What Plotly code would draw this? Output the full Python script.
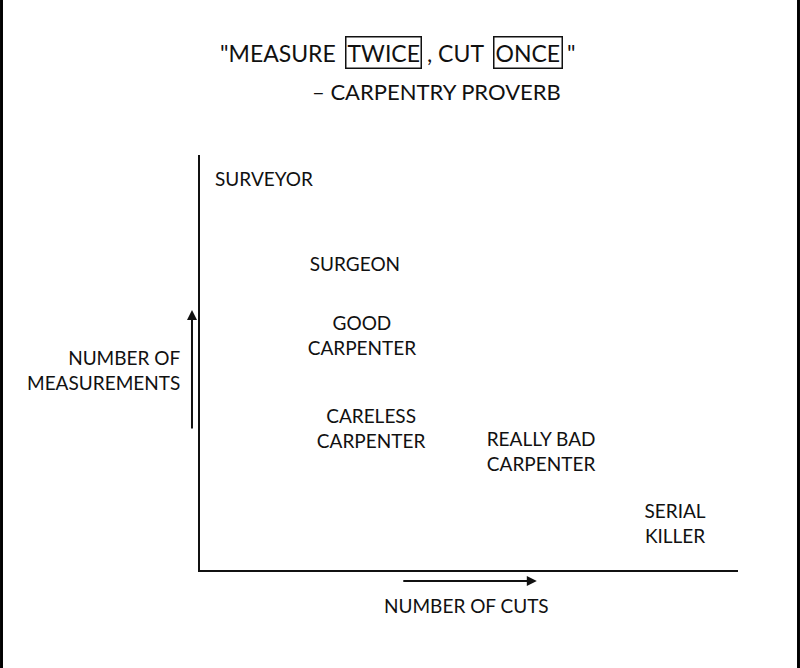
import plotly.graph_objects as go

# Data: position of each profession on the (cuts, measurements) plane
labels = ["SURVEYOR", "SURGEON", "GOOD<br>CARPENTER", "CARELESS<br>CARPENTER",
          "REALLY BAD<br>CARPENTER", "SERIAL<br>KILLER"]
cuts = [1.19, 2.88, 3.01, 3.18, 6.34, 8.83]
measurements = [9.37, 7.32, 5.59, 3.35, 2.80, 1.06]

FONT = "Lato"
INK = "#111111"

fig = go.Figure()
fig.add_trace(go.Scatter(
    x=cuts, y=measurements, mode="text", text=labels,
    textposition="middle center",
    textfont=dict(family=FONT, size=19, color=INK),
    hoverinfo="skip", showlegend=False,
))

ann = []
tsize = 23
ty = 1.2458
# Title line 1 pieces
ann.append(dict(text="\"MEASURE", x=0.2565, y=ty, xref="paper", yref="paper",
                xanchor="right", yanchor="middle", showarrow=False,
                font=dict(family=FONT, size=tsize, color=INK)))
ann.append(dict(text="TWICE", x=0.342, y=ty, xref="paper", yref="paper",
                xanchor="center", yanchor="middle", showarrow=False,
                bordercolor=INK, borderwidth=1.5, borderpad=1,
                font=dict(family=FONT, size=tsize, color=INK)))
ann.append(dict(text=", CUT", x=0.418, y=ty, xref="paper", yref="paper",
                xanchor="left", yanchor="middle", showarrow=False,
                font=dict(family=FONT, size=tsize, color=INK)))
ann.append(dict(text="ONCE", x=0.609, y=ty, xref="paper", yref="paper",
                xanchor="center", yanchor="middle", showarrow=False,
                bordercolor=INK, borderwidth=1.5, borderpad=1,
                font=dict(family=FONT, size=tsize, color=INK)))
ann.append(dict(text="\"", x=0.679, y=ty, xref="paper", yref="paper",
                xanchor="left", yanchor="middle", showarrow=False,
                font=dict(family=FONT, size=tsize, color=INK)))
ann.append(dict(text="– CARPENTRY PROVERB", x=0.44, y=1.152, xref="paper", yref="paper",
                xanchor="center", yanchor="middle", showarrow=False,
                font=dict(family=FONT, size=22, color=INK)))
# Axis labels
ann.append(dict(text="NUMBER OF CUTS", x=0.496, y=-0.0867, xref="paper", yref="paper",
                xanchor="center", yanchor="middle", showarrow=False,
                font=dict(family=FONT, size=19, color=INK)))
ann.append(dict(text="NUMBER OF<br>MEASUREMENTS", x=-0.0335, y=0.482, xref="paper", yref="paper",
                xanchor="right", yanchor="middle", align="right", showarrow=False,
                font=dict(family=FONT, size=19, color=INK)))
# Arrows
ann.append(dict(text="", x=0.626, y=-0.0265, xref="paper", yref="paper",
                ax=-135, ay=0, showarrow=True, arrowhead=2, arrowsize=1,
                arrowwidth=2, arrowcolor=INK))
ann.append(dict(text="", x=-0.0149, y=0.6265, xref="paper", yref="paper",
                ax=0, ay=120, showarrow=True, arrowhead=2, arrowsize=1,
                arrowwidth=2, arrowcolor=INK))

shapes = [
    dict(type="rect", xref="paper", yref="paper", x0=-0.3717, x1=-0.3662,
         y0=-0.24, y1=1.38, fillcolor="black", line=dict(width=0)),
    dict(type="rect", xref="paper", yref="paper", x0=1.1097, x1=1.1152,
         y0=-0.24, y1=1.38, fillcolor="black", line=dict(width=0)),
]

fig.update_layout(
    width=800, height=668, autosize=False,
    margin=dict(l=200, r=62, t=155, b=98),
    paper_bgcolor="white", plot_bgcolor="white",
    annotations=ann, shapes=shapes,
    xaxis=dict(range=[0, 10], showgrid=False, zeroline=False, showticklabels=False,
               ticks="", showline=True, linecolor=INK, linewidth=2, fixedrange=True),
    yaxis=dict(range=[0, 10], showgrid=False, zeroline=False, showticklabels=False,
               ticks="", showline=True, linecolor=INK, linewidth=2, fixedrange=True),
)

fig.write_html("out.html",
               config={"displayModeBar": False, "staticPlot": True},
               post_script="document.body.style.margin='0';document.body.style.overflow='hidden';")
